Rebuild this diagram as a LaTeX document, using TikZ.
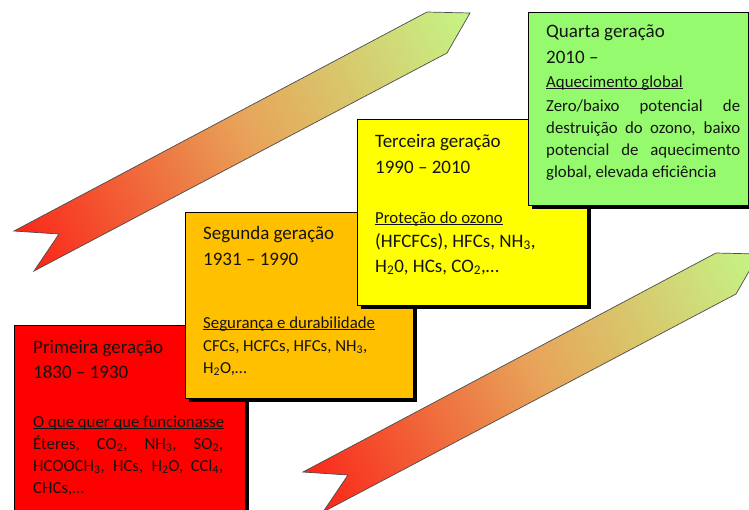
\documentclass[tikz,border=0pt]{standalone}
\usepackage{fontspec}
\setmainfont{Carlito}
\usetikzlibrary{calc}
\definecolor{boxred}{RGB}{255,0,0}
\definecolor{boxorange}{RGB}{255,192,0}
\definecolor{boxyellow}{RGB}{255,255,0}
\definecolor{boxgreen}{RGB}{150,250,110}
\newcommand\undl[1]{\setbox0\hbox{#1}\rlap{\rule[-1.9pt]{\wd0}{0.9pt}}\box0}
\newcommand\sbs[1]{\textsubscript{#1}}
\newcommand\gradribbon[2]{%
\begin{scope}[shift={(#1,#2)}]
  \begin{scope}
    \clip (14,231) -- (427,12) -- (470,13) -- (447,53) -- (34,271) -- (59,234) -- cycle;
    \foreach \i in {0,...,101}{
      \pgfmathsetmacro\sa{-98+5*\i}
      \pgfmathsetmacro\sb{\sa+5.8}
      \pgfmathsetmacro\ff{max(0,min(1,(\sa+2.5+97)/506))}
      \pgfmathsetmacro\valr{\ff<0.5 ? 0.98-0.14*\ff : 0.91-0.28*(\ff-0.5)}
      \pgfmathsetmacro\valg{\ff<0.5 ? 0.15+0.98*\ff : 0.64+0.64*(\ff-0.5)}
      \pgfmathsetmacro\valb{\ff<0.5 ? 0.10+0.50*\ff : 0.35+0.34*(\ff-0.5)}
      \definecolor{stripc}{rgb}{\valr,\valg,\valb}
      \fill[stripc] (\sa*0.8834+195*0.4684, -\sa*0.4684+195*0.8834)
        -- (\sb*0.8834+195*0.4684, -\sb*0.4684+195*0.8834)
        -- (\sb*0.8834+270*0.4684, -\sb*0.4684+270*0.8834)
        -- (\sa*0.8834+270*0.4684, -\sa*0.4684+270*0.8834) -- cycle;
    }
  \end{scope}
  \draw[ribbonline] (14,231) -- (427,12) -- (470,13) -- (447,53) -- (34,271) -- (59,234) -- cycle;
\end{scope}}
\tikzset{
  ribbonline/.style={draw=black!70, line width=0.7pt, line join=miter},
  genbox/.style={draw=black, line width=0.6pt},
  shadowbox/.style={fill=black},
  ttl/.style={anchor=base west, inner sep=0pt, font=\fontsize{19}{23}\selectfont, text=black!92},
  bdy/.style={anchor=base west, inner sep=0pt, font=\fontsize{16.8}{20}\selectfont, text=black!92},
}
\begin{document}
\begin{tikzpicture}[x=1pt,y=-1pt]
\useasboundingbox (0,0) rectangle (749,509);
\clip (0,0) rectangle (749,509);
% ribbons
\gradribbon{0}{0}
\gradribbon{289}{241}
% box 1
\fill[shadowbox] (18,329) rectangle (249,530);
\filldraw[genbox, fill=boxred] (14,325) rectangle (245,525);
\node[ttl] (t1a) at (33,353) {Primeira geração};
\node[ttl] (t1b) at (33,378) {1830 – 1930};
\node[bdy] (t1c) at (33,427) {\undl{O que quer que funcionasse}};
\node[bdy] (t1d) at (33,449) {\makebox[190pt][s]{Éteres, CO\sbs{2}, NH\sbs{3}, SO\sbs{2},}};
\node[bdy] (t1e) at (33,471) {\makebox[190pt][s]{HCOOCH\sbs{3}, HCs, H\sbs{2}O, CCl\sbs{4},}};
\node[bdy] (t1f) at (33,493) {CHCs,…};
% box 2
\fill[shadowbox] (189,216) rectangle (417,402);
\filldraw[genbox, fill=boxorange] (185,212) rectangle (413,398);
\node[ttl] (t2a) at (203,239) {Segunda geração};
\node[ttl] (t2b) at (203,265) {1931 – 1990};
\node[bdy] (t2c) at (203,328) {\undl{Segurança e durabilidade}};
\node[bdy] (t2d) at (203,351) {CFCs, HCFCs, HFCs, NH\sbs{3},};
\node[bdy] (t2e) at (203,373) {H\sbs{2}O,…};
% box 3
\fill[shadowbox] (361,123) rectangle (591,309);
\filldraw[genbox, fill=boxyellow] (357,119) rectangle (587,305);
\node[ttl] (t3a) at (375,147) {Terceira geração};
\node[ttl] (t3b) at (375,173) {1990 – 2010};
\node[bdy] (t3c) at (375,223) {\undl{Proteção do ozono}};
\node[ttl] (t3d) at (375,247) {(HFCFCs), HFCs, NH\sbs{3},};
\node[ttl] (t3e) at (375,272) {H\sbs{2}0, HCs, CO\sbs{2},…};
% box 4
\fill[shadowbox] (532,16) rectangle (752,209);
\filldraw[genbox, fill=boxgreen] (528,12) rectangle (748,205);
\node[ttl] (t4a) at (546,37) {Quarta geração};
\node[ttl] (t4b) at (546,63) {2010 –};
\node[bdy] (t4c) at (546,87) {\undl{Aquecimento global}};
\node[bdy] (t4d) at (546,111) {\makebox[194pt][s]{Zero/baixo potencial de}};
\node[bdy] (t4e) at (546,133) {\makebox[194pt][s]{destruição do ozono, baixo}};
\node[bdy] (t4f) at (546,155) {\makebox[194pt][s]{potencial de aquecimento}};
\node[bdy] (t4g) at (546,177) {global, elevada eficiência};
\end{tikzpicture}
\end{document}
